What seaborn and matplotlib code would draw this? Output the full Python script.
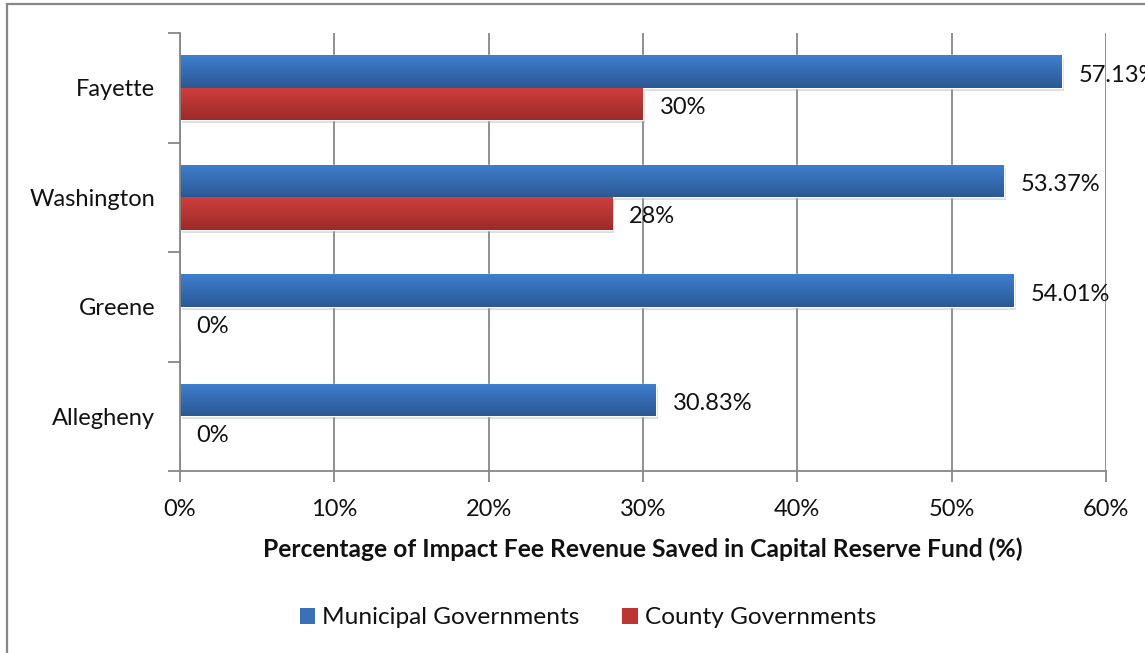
import numpy as np
import pandas as pd
import matplotlib
matplotlib.use("Agg")
import matplotlib.pyplot as plt
import matplotlib.transforms as mtransforms
from matplotlib.colors import LinearSegmentedColormap
from matplotlib.patches import Rectangle, Patch
import seaborn as sns

# Share of impact fee revenue saved in capital reserve funds
counties = ["Fayette", "Washington", "Greene", "Allegheny"]
municipal_pct = [57.13, 53.37, 54.01, 30.83]
county_pct = [30, 28, 0, 0]
levels = ["Municipal Governments", "County Governments"]
x_ticks = [0, 10, 20, 30, 40, 50, 60]

df = pd.DataFrame({
    "County": counties * 2,
    "Level": [levels[0]] * len(counties) + [levels[1]] * len(counties),
    "Pct": municipal_pct + county_pct,
})

sns.set_theme(style="white")
plt.rcParams["font.family"] = ["Lato", "DejaVu Sans"]
FS = 17
GRAY = "#878787"
TEXT = "#111111"

blue_grad = ("#3f7fcf", "#2b5893")
red_grad = ("#cf3f3d", "#9c2a29")
palette = {levels[0]: "#3a70b8", levels[1]: "#bb3634"}

fig = plt.figure(figsize=(11.45, 6.53), dpi=100)
ax = fig.add_axes([180 / 1145, 1 - 471 / 653, 926 / 1145, 438 / 653])

sns.barplot(data=df, y="County", x="Pct", hue="Level", hue_order=levels,
            order=counties, palette=palette, orient="h", width=0.59,
            dodge=True, legend=False, ax=ax, errorbar=None)

# Gradient fill and soft drop shadow on each bar
shadow_tr = ax.transData + mtransforms.ScaledTranslation(
    1.6 / 72, -2.2 / 72, fig.dpi_scale_trans)
for container, (c_top, c_bot) in zip(ax.containers, [blue_grad, red_grad]):
    cmap = LinearSegmentedColormap.from_list("bar_grad", [c_top, c_bot])
    for bar in container:
        x0, y0 = bar.get_x(), bar.get_y()
        w, h = bar.get_width(), bar.get_height()
        if w <= 0:
            continue
        ax.add_patch(Rectangle((x0, y0), w, h, transform=shadow_tr,
                               facecolor="#a0a0a0", edgecolor="none",
                               alpha=0.35, zorder=bar.get_zorder() - 0.05))
        grad = np.linspace(0, 1, 256).reshape(-1, 1)
        im = ax.imshow(grad, extent=(x0, x0 + w, y0 + h, y0), cmap=cmap,
                       aspect="auto", interpolation="bilinear",
                       zorder=bar.get_zorder() + 0.01)
        im.set_clip_path(bar)

# Value labels, nudged slightly below the bar centre line
for container, vals in zip(ax.containers, [municipal_pct, county_pct]):
    texts = ax.bar_label(container, labels=[f"{v:g}%" for v in vals],
                         padding=12, fontsize=FS, color=TEXT, clip_on=False)
    for t in texts:
        dx, dy = t.xyann
        t.xyann = (dx, dy - 2.5)

ax.set_xlim(0, 60)
ax.set_ylim(len(counties) - 0.5, -0.5)
ax.set_xticks(x_ticks)
ax.set_xticklabels([f"{t}%" for t in x_ticks])

centers = np.arange(len(counties))
bounds = np.arange(len(counties) + 1) - 0.5
ax.set_yticks(bounds)
ax.set_yticklabels([""] * len(bounds))
ax.set_yticks(centers, minor=True)
ax.set_yticklabels(counties, minor=True)

ax.tick_params(axis="y", which="major", length=9, width=1.3, color=GRAY,
               direction="out", left=True)
ax.tick_params(axis="y", which="minor", length=0, pad=18, labelsize=FS,
               labelcolor=TEXT)
ax.tick_params(axis="x", which="major", length=8, width=1.3, color=GRAY,
               direction="out", bottom=True, pad=12, labelsize=FS,
               labelcolor=TEXT)

ax.set_axisbelow(True)
ax.xaxis.grid(True, color=GRAY, linewidth=1.3)
ax.yaxis.grid(False)
for side in ["top", "right"]:
    ax.spines[side].set_visible(False)
for side in ["left", "bottom"]:
    ax.spines[side].set_color(GRAY)
    ax.spines[side].set_linewidth(1.3)

ax.set_ylabel("")
ax.set_xlabel("Percentage of Impact Fee Revenue Saved in Capital Reserve Fund (%)",
              fontsize=17.7, fontweight="bold", color=TEXT, labelpad=13)

handles = [Patch(facecolor=palette[l], edgecolor="none") for l in levels]
fig.legend(handles, levels, loc="center", bbox_to_anchor=(588 / 1145, 1 - 618 / 653),
           ncol=2, frameon=False, fontsize=17.6, handlelength=0.62,
           handleheight=0.62, handletextpad=0.3, columnspacing=1.75,
           labelcolor=TEXT)

# Outer chart border
fig.add_artist(Rectangle((7 / 1145, -0.05), 1.2, 1 - 4 / 653 + 0.05,
                         transform=fig.transFigure, fill=False,
                         edgecolor=GRAY, linewidth=1.6))

fig.savefig("out.png", dpi=100, facecolor="white")
